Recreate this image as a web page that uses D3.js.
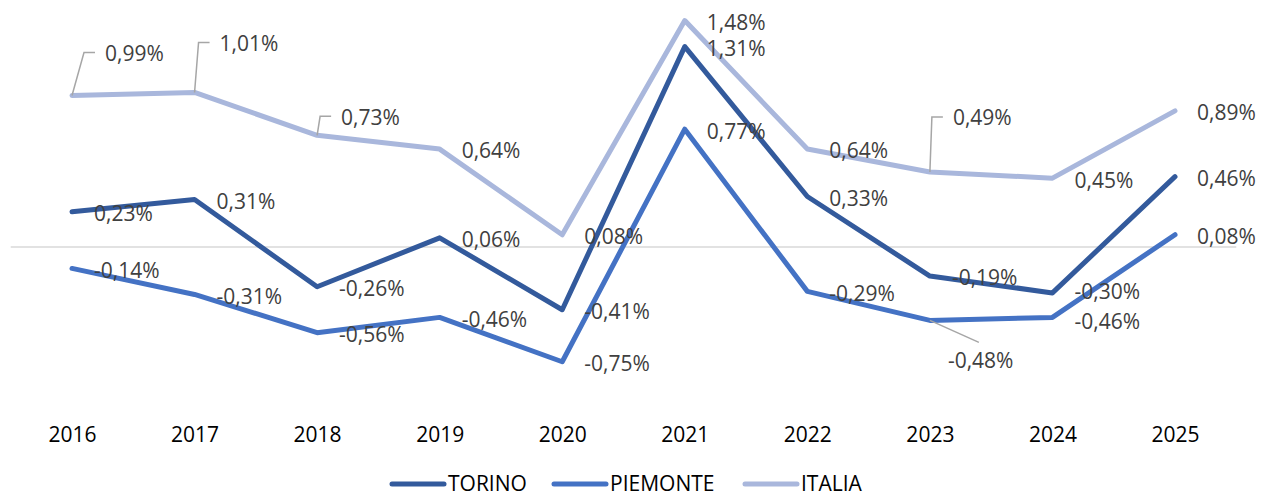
<!DOCTYPE html>
<html>
<head>
<meta charset="utf-8">
<script src="https://cdn.jsdelivr.net/npm/d3@7"></script>
<style>
  body { margin: 0; background: #fff; }
  svg text { font-family: "Open Sans", sans-serif; }
</style>
</head>
<body>
<div id="chart"></div>
<script>

/////////////////////
// Data
/////////////////////

var years = ["2016", "2017", "2018", "2019", "2020", "2021", "2022", "2023", "2024", "2025"];
var torino = [0.23, 0.31, -0.26, 0.06, -0.41, 1.31, 0.33, -0.19, -0.30, 0.46];
var piemonte = [-0.14, -0.31, -0.56, -0.46, -0.75, 0.77, -0.29, -0.48, -0.46, 0.08];
var italia = [0.99, 1.01, 0.73, 0.64, 0.08, 1.48, 0.64, 0.49, 0.45, 0.89];
var seriesNames = ["TORINO", "PIEMONTE", "ITALIA"];

// label placement (moved labels, like in the spreadsheet)
var labelMoves = {
    "ITALIA-2016": {dx: 33, dy: -42, leader: "up"},
    "ITALIA-2017": {dx: 25, dy: -49, leader: "up"},
    "ITALIA-2018": {dx: 24, dy: -18, leader: "up"},
    "ITALIA-2023": {dx: 23, dy: -54, leader: "up"},
    "PIEMONTE-2023": {dx: 18, dy: 40, leader: "down"},
    "TORINO-2024": {dx: 22, dy: -1},
    "PIEMONTE-2024": {dx: 22, dy: 4}
};

var colors = {TORINO: "#335A9C", PIEMONTE: "#4472C4", ITALIA: "#A9B7DC"};

/////////////////////
// Setup
/////////////////////

var width = 1267, height = 498;

var svg = d3.select("#chart").append("svg")
    .attr("width", width)
    .attr("height", height);

var x = d3.scalePoint()
    .domain(years)
    .range([72, 1175]);

var y = d3.scaleLinear()
    .domain([-1, 1.6])
    .range([400, 2.2]);

var fmt = function(v) { return d3.format(".2f")(v).replace(".", ",").replace("−", "-") + "%"; };

var series = [
    {name: "TORINO", values: torino},
    {name: "PIEMONTE", values: piemonte},
    {name: "ITALIA", values: italia}
];

// zero line
var step = x.step();
svg.append("line")
    .attr("x1", x(years[0]) - step / 2)
    .attr("x2", x(years[years.length - 1]) + step / 2)
    .attr("y1", y(0))
    .attr("y2", y(0))
    .style("stroke", "#D9D9D9")
    .style("stroke-width", 1.5);

// category axis (no line, just labels)
var xAxis = svg.append("g")
    .attr("transform", "translate(0," + 435 + ")")
    .call(d3.axisBottom(x).tickSize(0).tickPadding(0));
xAxis.select(".domain").remove();
xAxis.selectAll("text")
    .attr("dy", "0.35em")
    .style("font-size", "21px")
    .style("fill", "#000");

/////////////////////
// Lines
/////////////////////

var line = d3.line()
    .x(function(d, i) { return x(years[i]); })
    .y(function(d) { return y(d); });

// draw back to front: ITALIA, TORINO, PIEMONTE
var drawOrder = [series[2], series[0], series[1]];

svg.selectAll(".series")
    .data(drawOrder)
  .enter().append("path")
    .attr("class", "series")
    .attr("d", function(d) { return line(d.values); })
    .style("fill", "none")
    .style("stroke", function(d) { return colors[d.name]; })
    .style("stroke-width", 5)
    .style("stroke-linejoin", "round")
    .style("stroke-linecap", "round");

/////////////////////
// Data labels
/////////////////////

var labels = [];
series.forEach(function(s) {
    s.values.forEach(function(v, i) {
        var m = labelMoves[s.name + "-" + years[i]] || {dx: 22, dy: 2};
        labels.push({name: s.name, value: v, px: x(years[i]), py: y(v), dx: m.dx, dy: m.dy, leader: m.leader});
    });
});

// leader lines
svg.selectAll(".leader")
    .data(labels.filter(function(d) { return d.leader; }))
  .enter().append("polyline")
    .attr("class", "leader")
    .attr("points", function(d) {
        var lx = d.px + d.dx, ly = d.py + d.dy;
        if (d.leader == "up") {
            return [[d.px, d.py], [lx - 21, ly - 1], [lx - 10, ly - 1]].join(" ");
        }
        return [[d.px, d.py], [lx + 31, ly - 18]].join(" ");
    })
    .style("fill", "none")
    .style("stroke", "#A6A6A6")
    .style("stroke-width", 1.5);

svg.selectAll(".dlabel")
    .data(labels)
  .enter().append("text")
    .attr("class", "dlabel")
    .attr("x", function(d) { return d.px + d.dx; })
    .attr("y", function(d) { return d.py + d.dy; })
    .attr("dy", "0.35em")
    .style("font-size", "21px")
    .style("fill", "#404040")
    .text(function(d) { return fmt(d.value); });

/////////////////////
// Legend
/////////////////////

var legendX = [390, 552, 743];

var legend = svg.selectAll(".legend")
    .data(seriesNames)
  .enter().append("g")
    .attr("class", "legend")
    .attr("transform", function(d, i) { return "translate(" + legendX[i] + "," + 484 + ")"; });
legend.append("line")
    .attr("x1", 2)
    .attr("x2", 54)
    .style("stroke", function(d) { return colors[d]; })
    .style("stroke-width", 5)
    .style("stroke-linecap", "round");
legend.append("text")
    .attr("x", 58)
    .attr("dy", "0.35em")
    .style("font-size", "21px")
    .style("fill", "#000")
    .text(function(d) { return d; });

</script>
</body>
</html>
